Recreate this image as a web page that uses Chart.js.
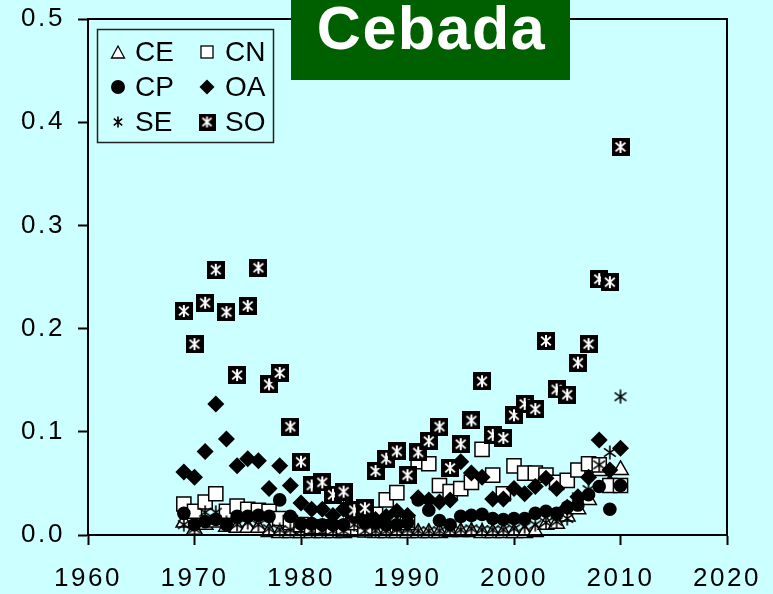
<!DOCTYPE html>
<html>
<head>
<meta charset="utf-8">
<script src="https://cdn.jsdelivr.net/npm/chart.js@4/dist/chart.umd.min.js"></script>
<style>
html,body{margin:0;padding:0;background:#CCFFFF;}
#wrap{width:773px;height:594px;position:relative;}
</style>
</head>
<body>
<div id="wrap"><canvas id="c" width="773" height="594"></canvas></div>
<script>
const chartTitle = "Cebada";
const years = [1969,1970,1971,1972,1973,1974,1975,1976,1977,1978,1979,1980,1981,1982,1983,1984,1985,1986,1987,1988,1989,1990,1991,1992,1993,1994,1995,1996,1997,1998,1999,2000,2001,2002,2003,2004,2005,2006,2007,2008,2009,2010];
const seriesNames = ["CE","CN","CP","OA","SE","SO"];
const xTicks = [1960,1970,1980,1990,2000,2010,2020];
const yTicks = [0,0.1,0.2,0.3,0.4,0.5];

const CE = [0.012,0.005,0.010,0.012,0.008,0.007,0.007,0.007,0.003,0.002,0.002,0.002,0.002,0.002,0.002,0.002,0.003,0.008,0.002,0.002,0.002,0.002,0.002,0.002,0.002,0.003,0.003,0.003,0.002,0.002,0.002,0.002,0.002,0.003,0.010,0.011,0.018,0.025,0.034,0.062,0.050,0.063];
const CN = [0.030,0.023,0.032,0.040,0.023,0.028,0.025,0.024,0.023,0.016,0.012,0.010,0.008,0.008,0.007,0.006,0.012,0.005,0.020,0.034,0.041,0.012,0.071,0.069,0.048,0.042,0.045,0.051,0.083,0.058,0.040,0.067,0.060,0.060,0.058,0.051,0.053,0.063,0.069,0.068,0.048,0.048];
const CP = [0.021,0.010,0.013,0.015,0.010,0.018,0.018,0.019,0.018,0.034,0.018,0.011,0.011,0.010,0.010,0.010,0.018,0.012,0.012,0.010,0.010,0.012,0.034,0.024,0.014,0.010,0.018,0.019,0.020,0.016,0.015,0.016,0.016,0.021,0.023,0.021,0.027,0.029,0.039,0.047,0.025,0.048];
const OA = [0.061,0.056,0.081,0.127,0.093,0.067,0.074,0.072,0.045,0.067,0.048,0.031,0.025,0.025,0.019,0.025,0.020,0.022,0.015,0.018,0.023,0.019,0.036,0.034,0.032,0.034,0.071,0.060,0.056,0.035,0.035,0.045,0.040,0.047,0.055,0.045,0.027,0.037,0.056,0.092,0.063,0.084];
const SE = [0.010,0.006,0.022,0.022,0.012,0.010,0.012,0.010,0.006,0.005,0.005,0.004,0.004,0.004,0.004,0.004,0.010,0.004,0.004,0.004,0.005,0.005,0.004,0.004,0.004,0.005,0.005,0.006,0.005,0.005,0.005,0.006,0.008,0.010,0.012,0.013,0.016,0.037,0.044,0.068,0.080,0.134];
const SO = [0.217,0.185,0.225,0.257,0.216,0.155,0.222,0.259,0.146,0.157,0.105,0.071,0.048,0.051,0.039,0.042,0.024,0.026,0.062,0.074,0.081,0.058,0.080,0.091,0.105,0.065,0.088,0.111,0.149,0.097,0.094,0.116,0.127,0.122,0.188,0.141,0.136,0.167,0.185,0.248,0.245,0.376];

const BG = "#CCFFFF";
const FONT = "'Liberation Sans', Arial, Helvetica, sans-serif";

function makeSO(size){
  const c = document.createElement('canvas');
  c.width = size; c.height = size;
  const g = c.getContext('2d');
  g.fillStyle = '#000'; g.fillRect(0,0,size,size);
  g.strokeStyle = '#fff'; g.lineWidth = Math.max(1.6, size/9); g.lineCap='butt';
  const m = size/2, a = size*0.33, b = size*0.27;
  g.beginPath();
  g.moveTo(m, m-a); g.lineTo(m, m+a);
  g.moveTo(m-b, m-b*0.9); g.lineTo(m+b, m+b*0.9);
  g.moveTo(m-b, m+b*0.9); g.lineTo(m+b, m-b*0.9);
  g.stroke();
  return c;
}
function makeSE(w, h){
  const c = document.createElement('canvas');
  c.width = w; c.height = h;
  const g = c.getContext('2d');
  g.strokeStyle = '#000'; g.lineWidth = 1.6;
  const mx = w/2, my = h/2, a = h*0.46, b = w*0.42;
  g.beginPath();
  g.moveTo(mx, my-a); g.lineTo(mx, my+a);
  g.moveTo(mx-b, my-a*0.6); g.lineTo(mx+b, my+a*0.6);
  g.moveTo(mx-b, my+a*0.6); g.lineTo(mx+b, my-a*0.6);
  g.stroke();
  return c;
}
const soImg = makeSO(18), seImg = makeSE(14, 15);
const soLeg = makeSO(17), seLeg = makeSE(10, 12);

function pts(arr){ return years.map((y,i)=>({x:y, y:arr[i]})); }

const datasets = [
  {label:seriesNames[0], data:pts(CE), pointStyle:'triangle', pointRadius:9, backgroundColor:'#fff', borderColor:'#000', borderWidth:1.5, order:6},
  {label:seriesNames[1], data:pts(CN), pointStyle:'rect', pointRadius:10, backgroundColor:'#fff', borderColor:'#000', borderWidth:1.5, order:5},
  {label:seriesNames[2], data:pts(CP), pointStyle:'circle', pointRadius:6.8, backgroundColor:'#000', borderColor:'#000', borderWidth:0, order:4},
  {label:seriesNames[3], data:pts(OA), pointStyle:'rectRot', pointRadius:8.5, backgroundColor:'#000', borderColor:'#000', borderWidth:0, order:3},
  {label:seriesNames[4], data:pts(SE), pointStyle:seImg, pointRadius:7, backgroundColor:'#000', borderColor:'#000', order:2},
  {label:seriesNames[5], data:pts(SO), pointStyle:soImg, pointRadius:9, backgroundColor:'#000', borderColor:'#000', order:1}
];
datasets.forEach(d=>{ d.showLine=false; d.pointHoverRadius=d.pointRadius; d.clip=false; });

const bgPlugin = {
  id:'bg',
  beforeDraw(chart){
    const ctx = chart.ctx;
    ctx.save(); ctx.fillStyle = BG; ctx.fillRect(0,0,chart.width,chart.height); ctx.restore();
    if ('letterSpacing' in ctx) ctx.letterSpacing = '2.6px';
  },
  beforeDatasetsDraw(chart){
    const ctx = chart.ctx;
    if ('letterSpacing' in ctx) ctx.letterSpacing = '0px';
  },
  afterDatasetsDraw(chart){
    const ctx = chart.ctx, a = chart.chartArea;
    ctx.save();
    ctx.strokeStyle = '#000'; ctx.lineWidth = 2;
    ctx.strokeRect(a.left, a.top, a.right - a.left, a.bottom - a.top);
    ctx.restore();
  },
  afterDraw(chart){
    const ctx = chart.ctx;
    ctx.save();
    // Title box
    ctx.fillStyle = '#006000';
    ctx.fillRect(291, 0, 279, 80);
    ctx.fillStyle = '#fff';
    ctx.font = "bold 61px " + FONT;
    if ('letterSpacing' in ctx) ctx.letterSpacing = '1.5px';
    ctx.textAlign = 'center'; ctx.textBaseline = 'alphabetic';
    ctx.fillText(chartTitle, 431.5, 49);
    if ('letterSpacing' in ctx) ctx.letterSpacing = '0px';
    // Legend box
    ctx.fillStyle = BG;
    ctx.fillRect(97, 29, 177, 114);
    ctx.strokeStyle = '#222'; ctx.lineWidth = 1.5;
    ctx.strokeRect(97.5, 29.5, 176, 113);
    const rows = [52, 87, 122];
    const cols = [[118,135],[207,225]];
    ctx.font = "28px " + FONT;
    ctx.textAlign = 'left'; ctx.textBaseline = 'middle';
    for (let i=0;i<6;i++){
      const r = Math.floor(i/2), cI = i%2;
      const mx = cols[cI][0], my = rows[r];
      ctx.fillStyle = '#000'; ctx.strokeStyle = '#000'; ctx.lineWidth = 1.3;
      const st = seriesNames[i];
      if (i===0){ // triangle
        ctx.beginPath(); ctx.moveTo(mx, my-6); ctx.lineTo(mx+6.5, my+6); ctx.lineTo(mx-6.5, my+6); ctx.closePath();
        ctx.fillStyle='#fff'; ctx.fill(); ctx.stroke();
      } else if (i===1){
        ctx.fillStyle='#fff'; ctx.fillRect(mx-6, my-6, 12, 12); ctx.strokeRect(mx-6, my-6, 12, 12);
      } else if (i===2){
        ctx.beginPath(); ctx.arc(mx, my, 7, 0, Math.PI*2); ctx.fill();
      } else if (i===3){
        ctx.beginPath(); ctx.moveTo(mx, my-7.5); ctx.lineTo(mx+7.5, my); ctx.lineTo(mx, my+7.5); ctx.lineTo(mx-7.5, my); ctx.closePath(); ctx.fill();
      } else if (i===4){
        ctx.drawImage(seLeg, mx-5, my-6);
      } else {
        ctx.drawImage(soLeg, mx-8.5, my-8.5);
      }
      ctx.fillStyle = '#000';
      ctx.fillText(st, cols[cI][1], my+1);
    }
    ctx.restore();
  }
};

new Chart(document.getElementById('c'), {
  type:'scatter',
  data:{datasets},
  options:{
    responsive:false,
    animation:false,
    events:[],
    layout:{padding:{top:19, right:46, left:0, bottom:0}},
    plugins:{legend:{display:false}, title:{display:false}, tooltip:{enabled:false}},
    scales:{
      x:{
        type:'linear', min:xTicks[0], max:xTicks[xTicks.length-1],
        afterBuildTicks(s){ s.ticks = xTicks.map(v=>({value:v})); },
        afterFit(s){ s.height = 59; s.paddingLeft = 0; s.paddingRight = 0; },
        ticks:{ callback:v=>String(v), color:'#000', font:{family:FONT, size:26}, padding:18, maxRotation:0, autoSkip:false },
        grid:{ drawOnChartArea:false, drawTicks:true, tickLength:10, tickColor:'#000', tickWidth:2 },
        border:{ display:true, color:'#000', width:2 }
      },
      y:{
        type:'linear', min:yTicks[0], max:yTicks[yTicks.length-1],
        afterBuildTicks(s){ s.ticks = yTicks.map(v=>({value:v})); },
        afterFit(s){ s.width = 88; s.paddingTop = 0; s.paddingBottom = 0; },
        ticks:{ callback:v=>Number(v).toFixed(1), color:'#000', font:{family:FONT, size:26}, padding:13, autoSkip:false },
        grid:{ drawOnChartArea:false, drawTicks:true, tickLength:10, tickColor:'#000', tickWidth:2 },
        border:{ display:true, color:'#000', width:2 }
      }
    }
  },
  plugins:[bgPlugin]
});
</script>
</body>
</html>
